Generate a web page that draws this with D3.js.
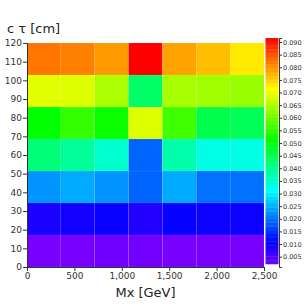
<!DOCTYPE html>
<html>
<head>
<meta charset="utf-8">
<script src="https://cdn.jsdelivr.net/npm/d3@7"></script>
<style>
	body { margin: 0; background: #fff; }
	svg { display: block; font-family: "DejaVu Sans", sans-serif; }
	.axis text { fill: #333; }
	.axis path, .axis line { stroke: #333; }
</style>
</head>
<body>
<svg id="chart" width="308" height="308"></svg>
<script>
// bin edges
const massEdges = [0, 357.14, 714.29, 1071.43, 1428.57, 1785.71, 2142.86, 2500];
const ctauEdges = [0, 17.14, 34.29, 51.43, 68.57, 85.71, 102.86, 120];

// values per ctau row (bottom to top), one entry per mass bin
const row0 = [0.0016, 0.0016, 0.0022, 0.0019, 0.0016, 0.0016, 0.0016];
const row1 = [0.0090, 0.0096, 0.0103, 0.0083, 0.0106, 0.0100, 0.0100];
const row2 = [0.0227, 0.0244, 0.0227, 0.0190, 0.0244, 0.0200, 0.0200];
const row3 = [0.0419, 0.0392, 0.0352, 0.0190, 0.0378, 0.0332, 0.0332];
const row4 = [0.0513, 0.0553, 0.0520, 0.0688, 0.0563, 0.0452, 0.0446];
const row5 = [0.0691, 0.0688, 0.0648, 0.0432, 0.0645, 0.0641, 0.0634];
const row6 = [0.0822, 0.0815, 0.0795, 0.0916, 0.0788, 0.0765, 0.0731];
const rows = [row0, row1, row2, row3, row4, row5, row6];

const xTicks = [0, 500, 1000, 1500, 2000, 2500];
const yTicks = [0, 10, 20, 30, 40, 50, 60, 70, 80, 90, 100, 110, 120];
const colorTicks = [0.005, 0.010, 0.015, 0.020, 0.025, 0.030, 0.035, 0.040, 0.045,
	0.050, 0.055, 0.060, 0.065, 0.070, 0.075, 0.080, 0.085, 0.090];

const vMin = 0.0009;
const vMax = 0.0916;

const svg = d3.select('#chart');

const xScale = d3.scaleLinear().domain([0, 2500]).range([27, 264]);
const yScale = d3.scaleLinear().domain([0, 120]).range([267, 43]);

// purple -> red through the hue wheel
const color = (v) => {
	const t = Math.max(0, Math.min(1, (v - vMin) / (vMax - vMin)));
	return d3.hsl(270 * (1 - t), 1, 0.5).formatHex();
};

const cells = [];
rows.forEach((row, j) => row.forEach((v, i) => cells.push({ i, j, v })));

svg.append('g')
	.selectAll('rect')
	.data(cells)
	.enter()
	.append('rect')
	.attr('x', (d) => xScale(massEdges[d.i]))
	.attr('y', (d) => yScale(ctauEdges[d.j + 1]))
	.attr('width', (d) => xScale(massEdges[d.i + 1]) - xScale(massEdges[d.i]))
	.attr('height', (d) => yScale(ctauEdges[d.j]) - yScale(ctauEdges[d.j + 1]))
	.attr('fill', (d) => color(d.v))
	.attr('stroke', 'rgba(255,255,255,0.12)')
	.attr('stroke-width', 0.5);

const xAxis = d3.axisBottom(xScale)
	.tickValues(xTicks)
	.tickFormat(d3.format(','))
	.tickSize(4)
	.tickPadding(2);

svg.append('g')
	.attr('class', 'axis')
	.attr('transform', 'translate(0, 267)')
	.call(xAxis)
	.call(g => g.selectAll('text').attr('font-size', 9).attr('font-family', 'DejaVu Sans'));

const yAxis = d3.axisLeft(yScale)
	.tickValues(yTicks)
	.tickSize(4)
	.tickPadding(1);

svg.append('g')
	.attr('class', 'axis')
	.attr('transform', 'translate(27, 0)')
	.call(yAxis)
	.call(g => g.selectAll('text').attr('font-size', 9).attr('font-family', 'DejaVu Sans'));

// colour bar
const cScale = d3.scaleLinear().domain([vMin, vMax]).range([267, 38]);
const bandCount = 60;
const bandLow = 0.0021;
const bands = d3.range(bandCount).map(k => {
	const a = bandLow + (vMax - bandLow) * k / bandCount;
	const b = bandLow + (vMax - bandLow) * (k + 1) / bandCount;
	return { a, b };
});

svg.append('g')
	.selectAll('rect')
	.data(bands)
	.enter()
	.append('rect')
	.attr('x', 265.5)
	.attr('width', 13)
	.attr('y', (d) => cScale(d.b))
	.attr('height', (d) => cScale(d.a) - cScale(d.b) + 0.3)
	.attr('fill', (d) => color((d.a + d.b) / 2));

const cAxis = d3.axisRight(cScale)
	.tickValues(colorTicks)
	.tickFormat(d3.format('.3f'))
	.tickSize(3)
	.tickPadding(1);

svg.append('g')
	.attr('class', 'axis')
	.attr('transform', 'translate(279, 0)')
	.call(cAxis)
	.call(g => g.selectAll('text').attr('font-size', 6.5).attr('font-family', 'DejaVu Sans'));

svg.append('text')
	.attr('x', 7)
	.attr('y', 33)
	.attr('font-size', 13)
	.attr('fill', '#222')
	.text('c τ [cm]');

svg.append('text')
	.attr('x', 145.5)
	.attr('y', 297)
	.attr('text-anchor', 'middle')
	.attr('font-size', 13)
	.attr('fill', '#222')
	.text('Mx [GeV]');
</script>
</body>
</html>
